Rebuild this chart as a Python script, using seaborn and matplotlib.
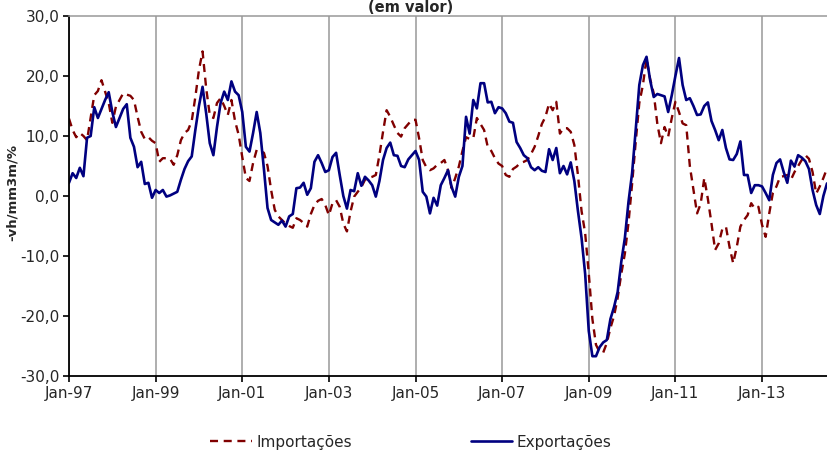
import numpy as np
import pandas as pd
import matplotlib
matplotlib.use("Agg")
import matplotlib.pyplot as plt
import seaborn as sns

# monthly values (% yoy, 3-month moving average), Jan-97 .. Jul-14
exportacoes = [
    2.2, 3.8, 3.0, 4.7, 3.3, 9.7, 10.0, 14.8, 13.0, 14.5, 16.0, 17.3,      # 1997
    14.0, 11.5, 13.0, 14.5, 15.3, 9.7, 8.2, 4.8, 5.7, 2.0, 2.2, -0.3,      # 1998
    1.0, 0.5, 1.0, -0.1, 0.1, 0.4, 0.7, 2.7, 4.5, 5.8, 6.6, 11.0,         # 1999
    15.0, 18.2, 13.8, 8.8, 6.8, 11.5, 15.5, 17.4, 16.0, 19.1, 17.4, 16.8,  # 2000
    14.0, 8.2, 7.4, 10.5, 14.0, 10.5, 4.5, -2.0, -4.0, -4.4, -4.8, -4.1,   # 2001
    -5.1, -3.4, -3.0, 1.3, 1.4, 2.2, 0.2, 1.3, 5.7, 6.8, 5.5, 4.0,        # 2002
    4.3, 6.5, 7.2, 3.5, 0.0, -2.1, 1.0, 0.8, 3.8, 1.7, 3.2, 2.6,          # 2003
    1.8, -0.1, 2.5, 6.0, 8.0, 8.9, 6.8, 6.7, 5.0, 4.8, 6.1, 6.8,          # 2004
    7.5, 6.0, 0.7, -0.1, -2.9, -0.3, -1.6, 1.8, 3.0, 4.3, 1.5, -0.1,      # 2005
    3.2, 5.0, 13.2, 10.4, 16.0, 14.6, 18.8, 18.8, 15.6, 15.7, 13.8, 14.8,  # 2006
    14.6, 13.8, 12.4, 12.2, 9.0, 8.0, 6.8, 6.3, 4.8, 4.3, 4.8, 4.2,       # 2007
    4.0, 7.8, 6.0, 8.0, 3.8, 5.0, 3.6, 5.6, 2.5, -2.5, -7.0, -13.0,       # 2008
    -22.5, -26.7, -26.7, -25.2, -24.4, -24.0, -20.5, -18.5, -16.0, -11.0, -7.0, -1.0,  # 2009
    3.8, 11.0, 18.5, 21.8, 23.2, 19.3, 16.5, 17.0, 16.8, 16.6, 14.0, 16.8,  # 2010
    20.0, 23.0, 18.5, 16.0, 16.3, 15.0, 13.5, 13.6, 15.0, 15.6, 12.5, 11.0,  # 2011
    9.3, 11.0, 8.0, 6.1, 6.0, 7.0, 9.1, 3.5, 3.5, 0.5, 1.8, 1.8,          # 2012
    1.6, 0.5, -0.7, 3.5, 5.5, 6.1, 4.0, 2.2, 5.9, 4.9, 6.8, 6.4,          # 2013
    5.8, 4.5, 1.0, -1.5, -3.0, 0.0, 2.1,                                   # 2014
]

importacoes = [
    12.9, 11.0, 9.8, 10.5, 10.0, 9.3, 13.0, 16.8, 17.5, 19.3, 17.4, 15.5,  # 1997
    12.2, 14.9, 16.0, 17.1, 16.9, 16.7, 16.0, 13.2, 10.7, 9.5, 9.8, 9.2,   # 1998
    8.8, 5.7, 6.3, 6.3, 6.2, 5.2, 6.8, 9.3, 10.5, 11.0, 12.5, 16.5,       # 1999
    21.0, 24.1, 18.0, 13.5, 13.0, 15.5, 16.3, 15.0, 13.5, 16.0, 12.5, 10.2,  # 2000
    6.5, 3.0, 2.5, 5.5, 7.7, 7.5, 7.2, 5.0, 1.0, -2.3, -3.4, -4.0,        # 2001
    -4.6, -5.0, -5.3, -3.7, -4.0, -4.5, -5.1, -3.0, -1.5, -0.8, -0.5, -1.5,  # 2002
    -3.2, -1.2, -0.7, -1.8, -4.6, -5.9, -2.6, -0.1, 0.7, 1.5, 2.7, 3.0,   # 2003
    3.2, 3.5, 6.8, 10.7, 14.3, 13.2, 11.8, 10.5, 9.9, 11.3, 12.0, 12.7,   # 2004
    12.7, 9.6, 6.0, 4.8, 4.3, 4.6, 5.2, 5.5, 6.0, 4.3, 1.3, 3.0,          # 2005
    4.9, 7.5, 9.8, 9.5, 9.6, 13.0, 12.0, 11.0, 8.2, 7.5, 6.3, 5.4,        # 2006
    5.0, 3.5, 3.2, 4.5, 4.9, 5.5, 5.7, 6.0, 7.0, 8.2, 10.0, 12.0,         # 2007
    13.2, 15.4, 14.3, 15.7, 10.4, 11.3, 11.3, 10.7, 8.5, 3.5, -2.5, -6.2,  # 2008
    -12.9, -20.5, -24.8, -26.0, -26.1, -24.5, -22.0, -20.0, -17.0, -13.0, -9.6, -4.5,  # 2009
    2.0, 9.0, 15.5, 18.5, 22.9, 19.5, 17.1, 12.0, 8.8, 11.5, 9.9, 13.0,   # 2010
    15.7, 14.0, 12.1, 11.8, 5.0, 1.0, -2.9, -1.3, 3.0, -0.5, -4.6, -9.0,  # 2011
    -7.9, -5.5, -5.1, -8.5, -11.2, -8.5, -5.1, -4.0, -3.2, -1.2, -2.1, -1.8,  # 2012
    -4.8, -6.8, -2.9, 0.5, 1.6, 3.2, 3.3, 3.5, 2.7, 4.0, 5.0, 6.0,        # 2013
    6.8, 6.2, 4.0, 0.4, 1.6, 3.0, 4.6,                                     # 2014
]

x_labels = ["Jan-97", "Jan-99", "Jan-01", "Jan-03", "Jan-05",
            "Jan-07", "Jan-09", "Jan-11", "Jan-13"]
y_values = [-30, -20, -10, 0, 10, 20, 30]
y_labels = ["-30,0", "-20,0", "-10,0", "0,0", "10,0", "20,0", "30,0"]

df = pd.DataFrame({
    "mes": np.arange(len(exportacoes)),
    "Importações": importacoes,
    "Exportações": exportacoes,
})

sns.set_theme(style="white")
plt.rcParams["font.family"] = ["DejaVu Sans"]

fig = plt.figure(figsize=(8.27, 4.5), dpi=100)
ax = fig.add_axes([69 / 827, 74 / 450, 758 / 827, 360 / 450])

sns.lineplot(data=df, x="mes", y="Importações", ax=ax, color="#800000",
             linewidth=1.7, label="Importações")
ax.lines[-1].set_dashes((3.4, 2.4))
sns.lineplot(data=df, x="mes", y="Exportações", ax=ax, color="#000080",
             linewidth=1.9, label="Exportações")

ax.set_xlim(0, len(exportacoes) - 1)
ax.set_ylim(-30, 30)
ax.set_xticks(np.arange(len(x_labels)) * 24)
ax.set_xticklabels(x_labels, fontsize=11)
ax.set_yticks(y_values)
ax.set_yticklabels(y_labels, fontsize=11)
ax.set_xlabel("")
ax.set_ylabel("")

ax.xaxis.grid(True, color="#999999", linewidth=1.1)
ax.yaxis.grid(False)
ax.tick_params(axis="both", direction="out", length=4, width=1.2, color="black",
               bottom=True, left=True, pad=3)
for side in ["left", "bottom"]:
    ax.spines[side].set_color("black")
    ax.spines[side].set_linewidth(1.3)
ax.spines["top"].set_color("#999999")
ax.spines["top"].set_linewidth(1.1)
ax.spines["right"].set_visible(False)

ax.get_legend().remove()
handles, labels = ax.get_legend_handles_labels()
fig.legend(handles, labels, loc="center", bbox_to_anchor=(0.497, 1 - 442 / 450),
           ncol=2, frameon=False, fontsize=11, handlelength=2.7,
           columnspacing=7.8, handletextpad=0.3)

fig.text(0.497, 0.999, "(em valor)", ha="center", va="top",
         fontsize=10.5, fontweight="bold")
fig.text(12 / 827, 1 - 192 / 450, "-vh/mm3m/%", rotation=90, ha="center",
         va="center", fontsize=9.5, fontweight="bold")

fig.savefig("out.png", dpi=100)
